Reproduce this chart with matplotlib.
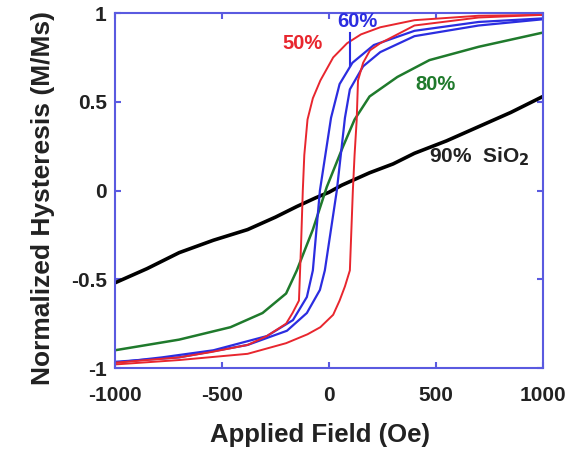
import matplotlib
matplotlib.use("Agg")
import matplotlib.pyplot as plt

# 50% sample: square loop
red_down_h = [1000, 700, 400, 240, 150, 85, 20, -40, -75, -100, -115, -122, -130, -140, -170, -200, -290, -380, -550, -700, -1000]
red_down_m = [0.99, 0.985, 0.96, 0.92, 0.88, 0.83, 0.75, 0.62, 0.52, 0.4, 0.2, 0.0, -0.3, -0.62, -0.69, -0.75, -0.82, -0.87, -0.91, -0.94, -0.97]
red_up_h = [-1000, -700, -380, -200, -100, -40, 20, 50, 75, 98, 112, 120, 130, 136, 160, 192, 240, 400, 700, 1000]
red_up_m = [-0.98, -0.955, -0.92, -0.86, -0.81, -0.77, -0.7, -0.62, -0.54, -0.45, 0.0, 0.2, 0.4, 0.62, 0.72, 0.79, 0.83, 0.93, 0.975, 0.99]

# 60% sample
blue_down_h = [1000, 700, 400, 210, 110, 50, 10, -42, -75, -103, -168, -290, -540, -780, -1000]
blue_down_m = [0.97, 0.95, 0.9, 0.82, 0.72, 0.6, 0.41, 0.0, -0.45, -0.6, -0.73, -0.82, -0.9, -0.94, -0.97]
blue_up_h = [-1000, -700, -380, -196, -103, -42, -19, 37, 75, 98, 160, 240, 400, 700, 1000]
blue_up_m = [-0.965, -0.94, -0.87, -0.79, -0.69, -0.56, -0.45, 0.0, 0.41, 0.57, 0.70, 0.78, 0.87, 0.93, 0.965]

# 80% sample
green_h = [-1000, -700, -460, -310, -200, -150, -75, -10, 65, 120, 190, 320, 470, 700, 1000]
green_m = [-0.9, -0.84, -0.77, -0.69, -0.58, -0.45, -0.22, 0.02, 0.245, 0.4, 0.53, 0.64, 0.735, 0.81, 0.89]

# 90% SiO2 sample
black_h = [-1000, -850, -700, -540, -380, -250, -150, -60, 0, 60, 190, 300, 400, 550, 700, 850, 1000]
black_m = [-0.52, -0.44, -0.35, -0.28, -0.22, -0.15, -0.09, -0.04, -0.01, 0.03, 0.1, 0.15, 0.21, 0.28, 0.36, 0.44, 0.53]

x_ticks = [-1000, -500, 0, 500, 1000]
y_ticks = [-1, -0.5, 0, 0.5, 1]
y_tick_labels = ["-1", "-0.5", "0", "0.5", "1"]

RED = "#e8262e"
BLUE = "#2b2de0"
GREEN = "#1f7a2c"
SPINE = "#5a5ae0"
TXT = "#222222"

plt.rcParams["font.family"] = ["Liberation Sans", "DejaVu Sans"]
plt.rcParams["font.weight"] = "bold"
plt.rcParams["axes.unicode_minus"] = False

fig = plt.figure(figsize=(5.72, 4.51), dpi=100)
ax = fig.add_axes([0.201, 0.184, 0.748, 0.787])

ax.plot(black_h, black_m, color="black", lw=2.6)
ax.plot(green_h, green_m, color=GREEN, lw=1.8)
ax.plot(blue_down_h, blue_down_m, color=BLUE, lw=1.6)
ax.plot(blue_up_h, blue_up_m, color=BLUE, lw=1.6)
ax.plot(red_down_h, red_down_m, color=RED, lw=1.4)
ax.plot(red_up_h, red_up_m, color=RED, lw=1.4)

ax.text(-121, 0.83, "50%", color=RED, fontsize=14.5, ha="center", va="center", fontweight="bold")
ax.text(131, 0.95, "60%", color=BLUE, fontsize=14.5, ha="center", va="center", fontweight="bold")
ax.plot([98, 98], [0.89, 0.70], color=BLUE, lw=1.5)
ax.text(500, 0.6, "80%", color=GREEN, fontsize=14.5, ha="center", va="center", fontweight="bold")
ax.text(470, 0.19, "90%  SiO$_\\mathbf{2}$", color=TXT, fontsize=15, ha="left", va="center", fontweight="bold")

ax.set_xlim(-1000, 1000)
ax.set_ylim(-1, 1)
ax.set_xticks(x_ticks)
ax.set_yticks(y_ticks)
ax.set_yticklabels(y_tick_labels)
ax.tick_params(direction="in", top=True, right=True, length=4, width=1.5,
               color=SPINE, labelsize=15, labelcolor=TXT)
ax.tick_params(axis="x", pad=13)
ax.tick_params(axis="y", pad=6)
for s in ax.spines.values():
    s.set_color(SPINE)
    s.set_linewidth(1.5)

ax.set_xlabel("Applied Field (Oe)", fontsize=18.5, color=TXT, fontweight="bold")
ax.set_ylabel("Normalized Hysteresis (M/Ms)", fontsize=19, color=TXT, fontweight="bold")
ax.xaxis.set_label_coords(0.479, -0.155)
ax.yaxis.set_label_coords(-0.14, 0.48)

fig.savefig("out.png", dpi=100)
